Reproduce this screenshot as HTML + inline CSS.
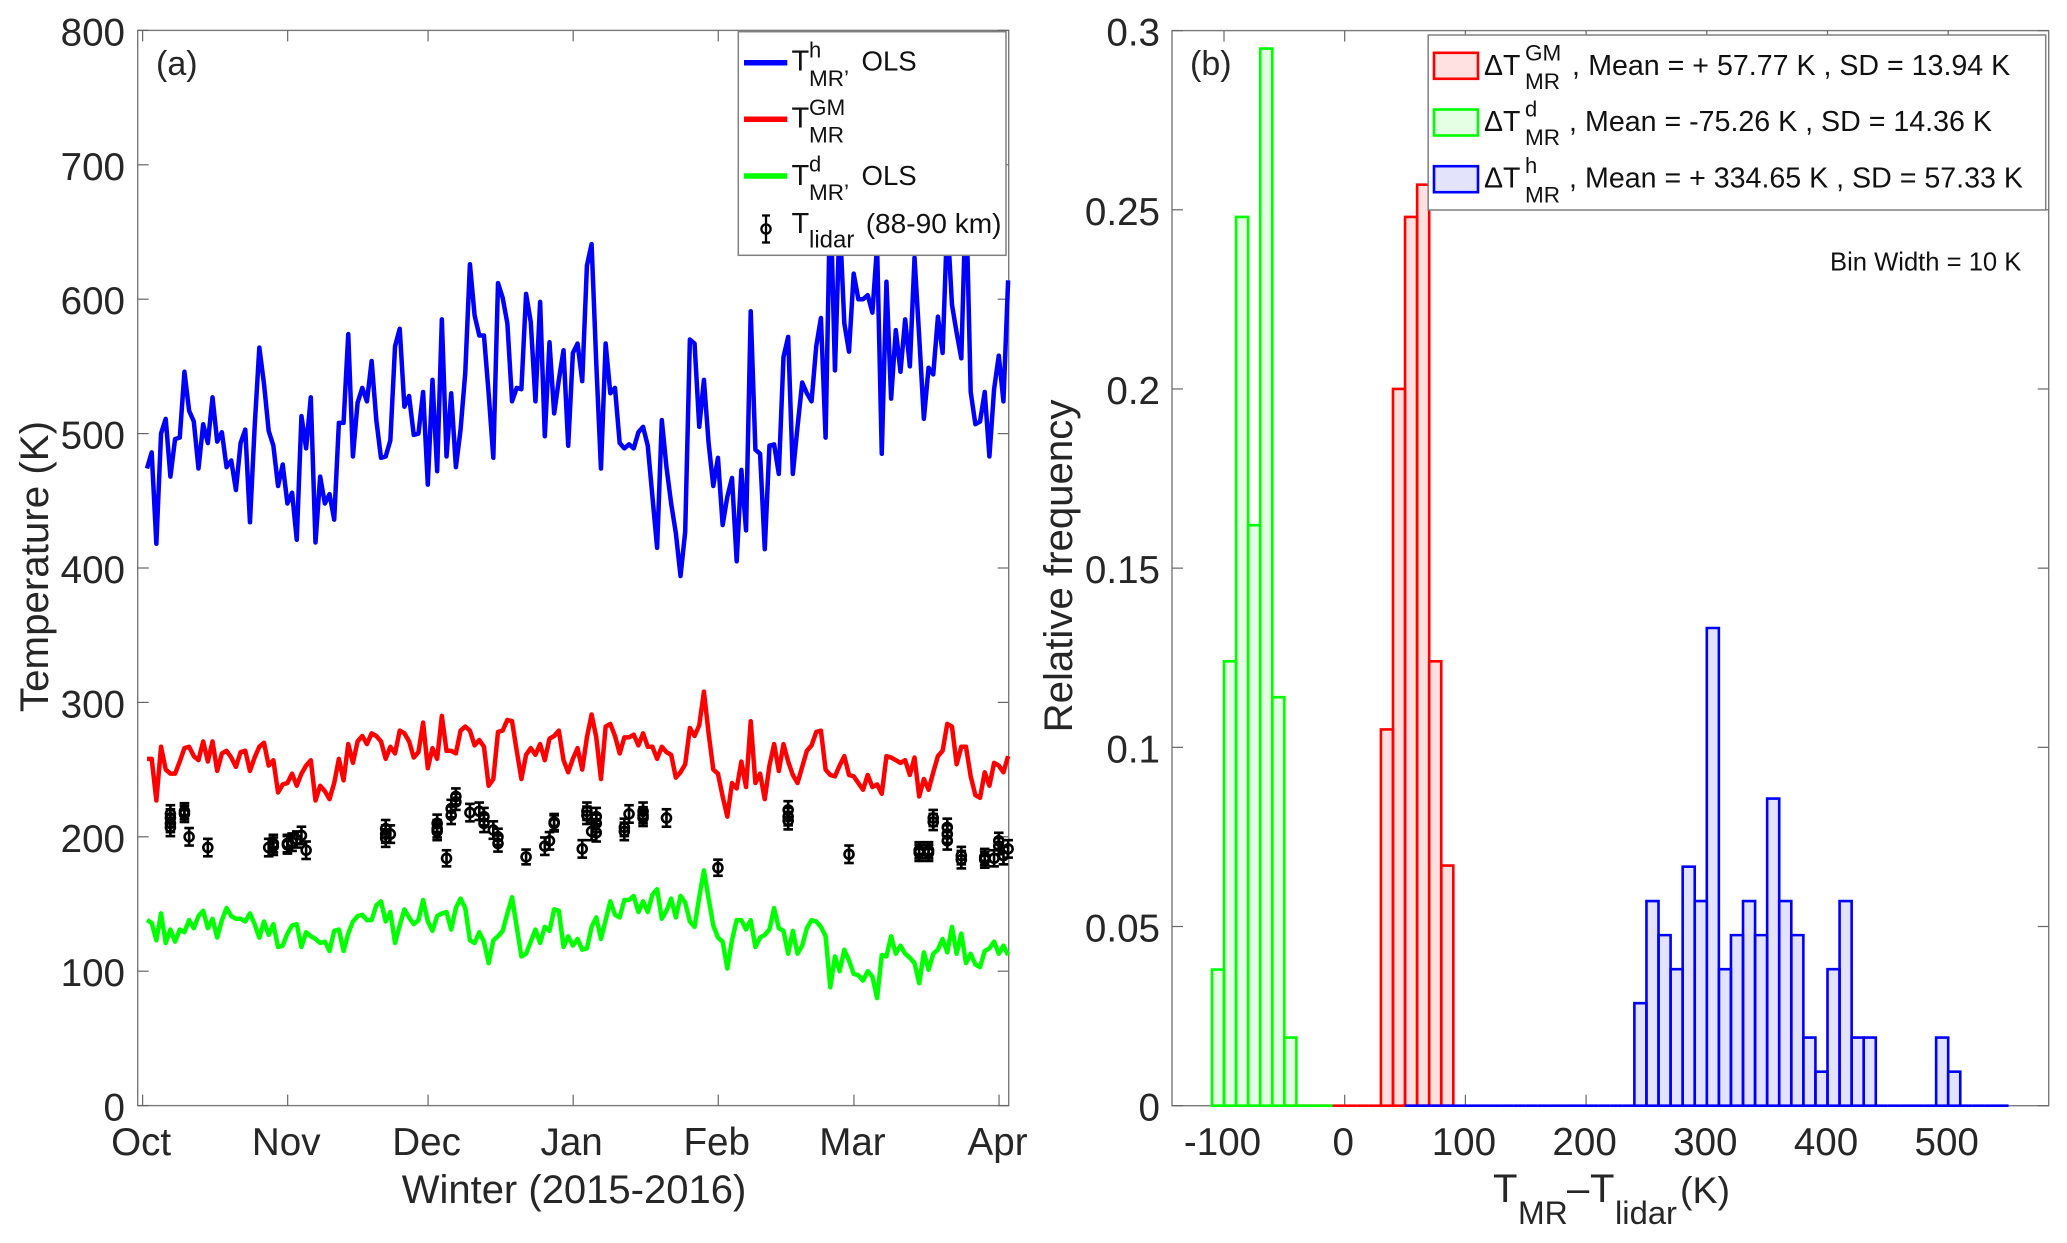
<!DOCTYPE html>
<html lang="en">
<head>
<meta charset="utf-8">
<title>Winter 2015-2016 temperature comparison</title>
<style>
html,body{margin:0;padding:0;background:#fff;}
svg{display:block;}
text{font-family:"Liberation Sans",Arial,sans-serif;fill:#262626;}
.leg text{fill:#111;}
</style>
</head>
<body>
<svg id="fig" xmlns="http://www.w3.org/2000/svg" width="2067" height="1243" viewBox="0 0 2067 1243">
  <rect width="2067" height="1243" fill="#fff"/>
  <g id="panelA"></g>
  <g id="panelB"></g>

  <text x="156" y="75" font-size="34">(a)</text>
  <text x="574" y="1203" font-size="40" text-anchor="middle">Winter (2015-2016)</text>
  <text transform="translate(48,566.5) rotate(-90)" font-size="40.3" text-anchor="middle">Temperature (K)</text>

  <text x="1190" y="75" font-size="34">(b)</text>
  <text transform="translate(1072,566) rotate(-90)" font-size="40.2" text-anchor="middle">Relative frequency</text>
  <g>
    <text x="1493" y="1202" font-size="40">T</text>
    <text x="1518" y="1224" font-size="32">MR</text>
    <text x="1567" y="1202" font-size="40">–</text>
    <text x="1590" y="1202" font-size="40">T</text>
    <text x="1615" y="1224" font-size="32.8">lidar</text>
    <text x="1680" y="1203" font-size="37.5">(K)</text>
  </g>

  <g class="leg">
    <rect x="738.3" y="31.7" width="267.7" height="223.6" fill="#fff" stroke="#808080" stroke-width="1.5"/>
    <g>
      <line x1="744" x2="787.3" y1="62.7" y2="62.7" stroke="#0000ff" stroke-width="5.5"/>
      <text x="791.5" y="70.5" font-size="29">T</text>
      <text x="809" y="57.3" font-size="22">h</text>
      <text x="809" y="86" font-size="22.5">MR’</text>
      <text x="861.5" y="70.5" font-size="27.6">OLS</text>
    </g>
    <g>
      <line x1="744" x2="787.3" y1="119.3" y2="119.3" stroke="#ff0000" stroke-width="5.5"/>
      <text x="791.5" y="127.5" font-size="29">T</text>
      <text x="809" y="115" font-size="22.5">GM</text>
      <text x="809" y="142.7" font-size="22.5">MR</text>
    </g>
    <g>
      <line x1="744" x2="787.3" y1="176" y2="176" stroke="#00ff00" stroke-width="5.5"/>
      <text x="791.5" y="185" font-size="29">T</text>
      <text x="809" y="171.7" font-size="22">d</text>
      <text x="809" y="200" font-size="22.5">MR’</text>
      <text x="861.5" y="185" font-size="27.6">OLS</text>
    </g>
    <g>
      <line x1="766" x2="766" y1="215.5" y2="242.5" stroke="#000" stroke-width="2.3"/>
      <line x1="762" x2="770" y1="215.5" y2="215.5" stroke="#000" stroke-width="2.3"/>
      <line x1="762" x2="770" y1="242.5" y2="242.5" stroke="#000" stroke-width="2.3"/>
      <circle cx="766" cy="229" r="4.6" fill="none" stroke="#000" stroke-width="2.3"/>
      <text x="791.5" y="233" font-size="29">T</text>
      <text x="809" y="247.3" font-size="24">lidar</text>
      <text x="865.7" y="233" font-size="28.1">(88-90 km)</text>
    </g>
  </g>

  <g class="leg">
    <rect x="1428.2" y="35" width="617.5" height="175" fill="#fff" stroke="#808080" stroke-width="1.5"/>
    <g>
      <rect x="1434" y="52.8" width="44" height="26" fill="#ffe1e1" stroke="#ff0000" stroke-width="2.6"/>
      <text x="1484" y="75" font-size="28.5">ΔT</text>
      <text x="1525" y="60.7" font-size="22.5">GM</text>
      <text x="1525" y="89" font-size="22.5">MR</text>
      <text x="1572" y="75" font-size="28.5">,</text>
      <text x="1588.2" y="75" font-size="28.6">Mean = + 57.77 K , SD = 13.94 K</text>
    </g>
    <g>
      <rect x="1434" y="109.5" width="44" height="26" fill="#e5ffe5" stroke="#00ff00" stroke-width="2.6"/>
      <text x="1484" y="131" font-size="28.5">ΔT</text>
      <text x="1525" y="116.7" font-size="22">d</text>
      <text x="1525" y="145" font-size="22.5">MR</text>
      <text x="1569" y="131" font-size="28.5">,</text>
      <text x="1585" y="131" font-size="28.6">Mean = -75.26 K , SD = 14.36 K</text>
    </g>
    <g>
      <rect x="1434" y="166.2" width="44" height="26" fill="#e3e3fb" stroke="#0000ff" stroke-width="2.6"/>
      <text x="1484" y="187.7" font-size="28.5">ΔT</text>
      <text x="1525" y="173" font-size="22">h</text>
      <text x="1525" y="202.3" font-size="22.5">MR</text>
      <text x="1569" y="187.7" font-size="28.5">,</text>
      <text x="1585" y="187.7" font-size="28.6">Mean = + 334.65 K , SD = 57.33 K</text>
    </g>
  </g>
  <text class="note" x="1830" y="270.7" font-size="25.6" style="fill:#111">Bin Width = 10 K</text>
</svg>

<script>
/* ---- panel (a) data ---- */
var monthLabels = ['Oct','Nov','Dec','Jan','Feb','Mar','Apr'];
var monthDays = [0,31,61,92,123,152,183];
var tempTicks = [0,100,200,300,400,500,600,700,800];
var hydroxylTemp = [
474,486,418,500,511,468,496,497,546,517,
509,474,507,493,527,494,501,475,480,458,
493,503,434,505,564,537,502,491,461,477,
448,456,421,513,489,527,419,468,448,455,
436,508,508,574,483,523,534,524,554,510,
482,483,495,565,578,520,528,499,500,531,
462,540,472,585,483,530,475,503,545,626,
588,573,573,530,482,612,601,582,524,534,
533,604,583,524,598,498,568,515,540,562,
491,560,567,539,625,641,552,474,567,530,
534,493,489,492,489,501,505,491,453,415,
510,475,448,426,394,427,570,567,505,540,
493,461,482,432,453,467,405,473,428,591,
488,485,414,491,492,470,557,572,470,505,
538,530,524,565,586,497,680,547,660,582,
561,619,600,600,603,590,640,485,613,526,
577,546,585,550,631,572,511,549,544,587,
560,660,596,575,556,680,531,507,509,531,
483,533,558,524,614];
var gmTemp = [
258,258,227,267,250,247,247,256,266,267,
260,257,271,256,271,249,262,264,259,252,
263,264,249,259,267,270,253,257,233,239,
240,247,238,247,253,257,227,238,234,228,
240,258,242,269,255,271,275,269,277,275,
271,258,267,262,279,277,271,259,263,285,
251,266,258,290,264,264,262,279,282,279,
268,272,267,238,243,278,279,287,286,264,
243,261,266,261,269,257,273,275,279,257,
248,258,266,250,274,291,274,243,282,284,
275,262,274,274,276,268,277,267,267,258,
267,263,261,244,248,254,281,275,283,308,
277,250,247,230,215,240,236,256,237,286,
240,247,228,253,269,249,269,256,246,240,
252,264,268,278,279,250,246,245,253,260,
246,245,240,235,246,237,239,232,260,259,
257,255,257,246,259,230,243,235,248,260,
264,284,282,254,267,267,245,231,229,248,
238,255,253,248,260];
var dustTemp = [
138,136,123,143,121,131,122,131,129,138,
132,141,145,132,139,125,138,147,141,139,
139,137,143,135,125,137,127,135,118,119,
128,134,135,118,129,126,124,121,122,115,
130,131,115,128,137,141,142,138,138,149,
152,137,144,121,134,146,140,135,138,153,
137,130,141,143,144,131,147,154,147,123,
121,129,122,106,123,126,130,143,155,133,
111,113,122,131,121,133,130,146,145,118,
126,119,124,116,117,133,140,124,138,152,
142,140,153,153,156,144,152,144,157,161,
139,145,154,140,156,151,137,133,155,175,
154,134,125,122,102,123,138,138,131,138,
118,125,127,131,147,132,130,113,130,113,
119,132,138,137,133,126,88,111,100,116,
108,98,97,93,100,96,80,112,111,126,
113,119,113,110,106,91,114,101,113,116,
124,114,133,113,128,106,113,105,103,115,
117,122,113,119,112];
var lidarDay = [
5,5,5,5,8,8,9,13,26,27,
27,30,30,31,32,33,34,51,51,51,
52,62,62,62,64,65,65,66,66,69,
71,72,72,74,75,75,81,85,86,87,
87,93,94,94,95,96,96,96,102,102,
103,106,106,106,111,122,137,137,137,150,
165,165,167,167,168,168,171,171,171,174,
174,179,179,181,182,182,183,184];
var lidarTemp = [
217,214,210,207,217,219,200,192,192,195,
193,195,194,196,198,201,190,206,202,199,
202,210,206,204,184,216,221,226,230,218,
219,215,210,205,200,195,185,193,197,210,
211,191,219,216,204,215,210,203,204,207,
217,219,216,214,214,177,220,215,212,187,
188,190,190,188,214,211,207,202,197,186,
183,185,183,184,197,193,186,191];
var lidarErr = [
6.5,6.5,6.5,6.5,6,6,6.5,6.5,6.5,6.5,
6.5,6.5,6.5,6.5,6,6.5,6.5,6.5,6.5,6.5,
6.5,6.5,6.5,6.5,6,6.5,6.5,6,6,6.5,
6.5,6.5,6.5,6.5,6,6,5.5,6.5,6.5,6,
6,6.5,6.5,6.5,6.5,6.5,6.5,6.5,6.5,6.5,
6.5,6.5,6,6,6.5,6,6.5,6.5,6.5,6.5,
6,6,6,6,6,6,6.5,6.5,6.5,6.5,
6.5,6,6,6,6,6,6.5,6.5];

/* ---- panel (b) data ---- */
var hbinWidth = 10;
var freqTicks = [0,0.05,0.1,0.15,0.2,0.25,0.3];
var freqTickLabels = ['0','0.05','0.1','0.15','0.2','0.25','0.3'];
var diffTicks = [-100,0,100,200,300,400,500];
var gmBinStart = -50;
var gmFreq = [0,0,0,0,0,0,0,0,0.105,0.2,0.248,0.257,0.124,0.067];
var dustBinStart = -110;
var dustFreq = [0.038,0.124,0.248,0.162,0.295,0.114,0.019,0,0,0];
var hydroxylBinStart = 50;
var hydroxylFreq = [
0,0,0,0,0,0,0,0,0,0,0,0,0,0,0,0,0,0,0,
0.0286,0.0571,0.0476,0.0381,0.0667,0.0571,0.1333,0.0381,0.0476,0.0571,
0.0476,0.0857,0.0571,0.0476,0.019,0.0095,0.0381,0.0571,0.019,0.019,
0,0,0,0,0,0.019,0.0095,0,0,0,0];

var NS = 'http://www.w3.org/2000/svg';
function mk(parent, tag, attrs, txt){
  var e = document.createElementNS(NS, tag);
  for (var k in attrs) e.setAttribute(k, attrs[k]);
  if (txt !== undefined) e.textContent = txt;
  parent.appendChild(e);
  return e;
}
var AXC = '#7a7a7a';

/* axis functions */
var A = {l:137.7, r:1008.7, t:30.4, b:1105.6};
function xA(day){ return 142.6 + 4.68 * day; }
function yA(v){ return A.b - (A.b - A.t) * v / 800; }
var B = {l:1172, r:2048.7, t:30.6, b:1105.7};
function xB(v){ return 1344.7 + 1.207 * v; }
function yB(v){ return B.b - (B.b - B.t) * v / 0.3; }

function drawFrame(g, box){
  var f = mk(g, 'rect', {x:box.l, y:box.t, width:box.r-box.l, height:box.b-box.t, fill:'none', stroke:AXC, 'stroke-width':1.4});
  
  
}
function xTick(g, box, x, label){
  var t1 = mk(g, 'line', {x1:x, x2:x, y1:box.b, y2:box.b-11, stroke:'#666', 'stroke-width':1.2});
  
  
  var t2 = mk(g, 'line', {x1:x, x2:x, y1:box.t, y2:box.t+11, stroke:'#666', 'stroke-width':1.2});
  
  
  var tx = mk(g, 'text', {x:x-1.5, y:1155, 'font-size':38.6, 'text-anchor':'middle'}, label);
  
  
}
function yTick(g, box, y, label, rightEnd){
  var t1 = mk(g, 'line', {x1:box.l, x2:box.l+11, y1:y, y2:y, stroke:'#666', 'stroke-width':1.2});
  
  
  var t2 = mk(g, 'line', {x1:box.r, x2:box.r-11, y1:y, y2:y, stroke:'#666', 'stroke-width':1.2});
  
  
  var tx = mk(g, 'text', {x:rightEnd, y:y+15, 'font-size':38.6, 'text-anchor':'end'}, label);
  
  
}

/* panel (a) */
var gA = document.getElementById('panelA');
drawFrame(gA, A);
monthDays.forEach(function(d, i){ xTick(gA, A, xA(d), monthLabels[i]); });
tempTicks.forEach(function(v){ yTick(gA, A, yA(v), String(v), 125); });

function drawLine(values, color, name){
  var pts = values.map(function(v, i){ return xA(i + 0.94).toFixed(2) + ',' + yA(v).toFixed(2); }).join(' ');
  var p = mk(gA, 'polyline', {points:pts, fill:'none', stroke:color, 'stroke-width':4.5, 'stroke-linejoin':'round', 'stroke-linecap':'butt'});
  
  
}
drawLine(hydroxylTemp, '#0000ff', 'series-hydroxyl-temperature');
drawLine(gmTemp, '#ff0000', 'series-gm-temperature');
drawLine(dustTemp, '#00ff00', 'series-dust-temperature');

lidarDay.forEach(function(d, i){
  var x = xA(d + 0.94), y = yA(lidarTemp[i]);
  var top = yA(lidarTemp[i] + lidarErr[i]), bot = yA(lidarTemp[i] - lidarErr[i]);
  var g = mk(gA, 'g', {stroke:'#000', 'stroke-width':2.6, fill:'none'});
  
  
  mk(g, 'line', {x1:x, x2:x, y1:top, y2:bot});
  mk(g, 'line', {x1:x-4.8, x2:x+4.8, y1:top, y2:top});
  mk(g, 'line', {x1:x-4.8, x2:x+4.8, y1:bot, y2:bot});
  mk(g, 'circle', {cx:x, cy:y, r:4.5});
});

/* panel (b) */
var gB = document.getElementById('panelB');
drawFrame(gB, B);
diffTicks.forEach(function(v){ xTick(gB, B, xB(v), String(v)); });
freqTicks.forEach(function(v, i){ yTick(gB, B, yB(v), freqTickLabels[i], 1160); });

function drawHist(start, freqs, color, fill, name){
  var g = mk(gB, 'g', {});
  
  
  freqs.forEach(function(f, i){
    var x0 = xB(start + i * hbinWidth), x1 = xB(start + (i + 1) * hbinWidth);
    var d = 'M' + x0 + ' ' + yB(0) + 'V' + yB(f) + 'H' + x1 + 'V' + yB(0) + 'Z';
    var r = mk(g, 'path', {d:d, fill:fill, stroke:color, 'stroke-width':2.6});
    
    
  });
}
drawHist(gmBinStart, gmFreq, '#ff0000', 'rgba(255,0,0,0.12)', 'histogram-delta-gm');
drawHist(dustBinStart, dustFreq, '#00ff00', 'rgba(0,255,0,0.1)', 'histogram-delta-dust');
drawHist(hydroxylBinStart, hydroxylFreq, '#0000ff', 'rgba(0,0,255,0.11)', 'histogram-delta-hydroxyl');

/* keep legends above plotted marks */
var svg = document.getElementById('fig');
Array.prototype.slice.call(svg.querySelectorAll('.leg')).forEach(function(n){ svg.appendChild(n); });
</script>
</body>
</html>
